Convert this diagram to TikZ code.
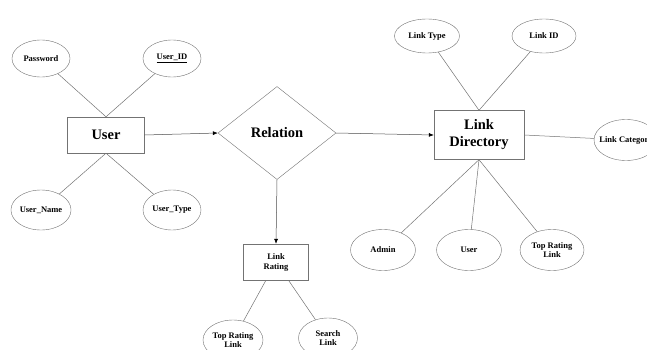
\documentclass[tikz,border=0pt]{standalone}
\usepackage{fontspec}
\setmainfont{Liberation Serif}
\usetikzlibrary{shapes.geometric,arrows.meta}
\begin{document}
\begin{tikzpicture}[x=1pt,y=-1pt,
    attr/.style={ellipse,draw=black!55,fill=white,inner sep=0pt,minimum width=60pt,minimum height=39pt,font=\fontsize{8.5}{9.5}\selectfont\bfseries,align=center},
    ent/.style={rectangle,draw=black!55,fill=white,inner sep=0pt,font=\fontsize{14.5}{17}\selectfont\bfseries,align=center},
    rel/.style={diamond,draw=black!55,fill=white,inner sep=0pt,minimum width=118pt,minimum height=93pt,font=\fontsize{14.5}{17}\selectfont\bfseries},
    conn/.style={draw=black!55,line width=0.5pt},
    link/.style={-{Latex[length=5pt,width=4pt,black]},draw=black!70,line width=0.5pt}
]
    \clip (0,0) rectangle (647,350);
    % entities and relation
    \node[ent,minimum width=77pt,minimum height=36pt] (user) at (106,135) {User};
    \node[rel] (rel) at (277,133) {Relation};
    \node[ent,minimum width=90pt,minimum height=49pt] (ldir) at (479,135) {Link\\Directory};
    \node[ent,minimum width=65pt,minimum height=36pt,font=\fontsize{8.5}{10}\selectfont\bfseries] (lrate) at (276,262) {Link\\Rating};
    % attributes of User
    \node[attr,minimum width=58pt,minimum height=37pt] (pass) at (41,58.5) {Password};
    \node[attr,minimum width=58pt,minimum height=37pt] (uid) at (172,58.5) {\underline{User\_ID}};
    \node[attr,minimum width=58pt,minimum height=40pt] (uname) at (41,210) {User\_Name};
    \node[attr,minimum width=58pt,minimum height=40pt] (utype) at (172,210) {User\_Type};
    % attributes of Link Directory
    \node[attr,minimum width=65pt,minimum height=34pt] (ltype) at (427,36) {Link Type};
    \node[attr,minimum width=64pt,minimum height=34pt] (lid) at (544,36) {Link ID};
    \node[attr,minimum width=64pt,minimum height=41pt,inner xsep=-10pt] (lcat) at (626,140) {Link Category};
    \node[attr,minimum width=65pt,minimum height=41pt] (admin) at (383,250) {Admin};
    \node[attr,minimum width=65pt,minimum height=41pt] (luser) at (469,250) {User};
    \node[attr,minimum width=64pt,minimum height=41pt] (ltop) at (552,250) {Top Rating\\Link};
    % attributes of Link Rating
    \node[attr,minimum width=60pt,minimum height=40pt] (rtop) at (233,340) {Top Rating\\Link};
    \node[attr,minimum width=59pt,minimum height=40pt] (search) at (328,338) {Search\\Link};
    % connectors
    \draw[conn] (user.north) -- (pass);
    \draw[conn] (user.north) -- (uid);
    \draw[conn] (user.south) -- (uname);
    \draw[conn] (user.south) -- (utype);
    \draw[conn] (ldir.north) -- (ltype);
    \draw[conn] (ldir.north) -- (lid);
    \draw[conn] (ldir.east) -- (lcat);
    \draw[conn] (ldir.south) -- (admin);
    \draw[conn] (ldir.south) -- (luser);
    \draw[conn] (ldir.south) -- (ltop);
    \draw[conn] (lrate) -- (rtop);
    \draw[conn] (lrate) -- (search);
    \draw[link] (user.east) -- (rel.west);
    \draw[link] (rel.east) -- (ldir.west);
    \draw[link] (rel.south) -- (lrate.north);
\end{tikzpicture}
\end{document}
